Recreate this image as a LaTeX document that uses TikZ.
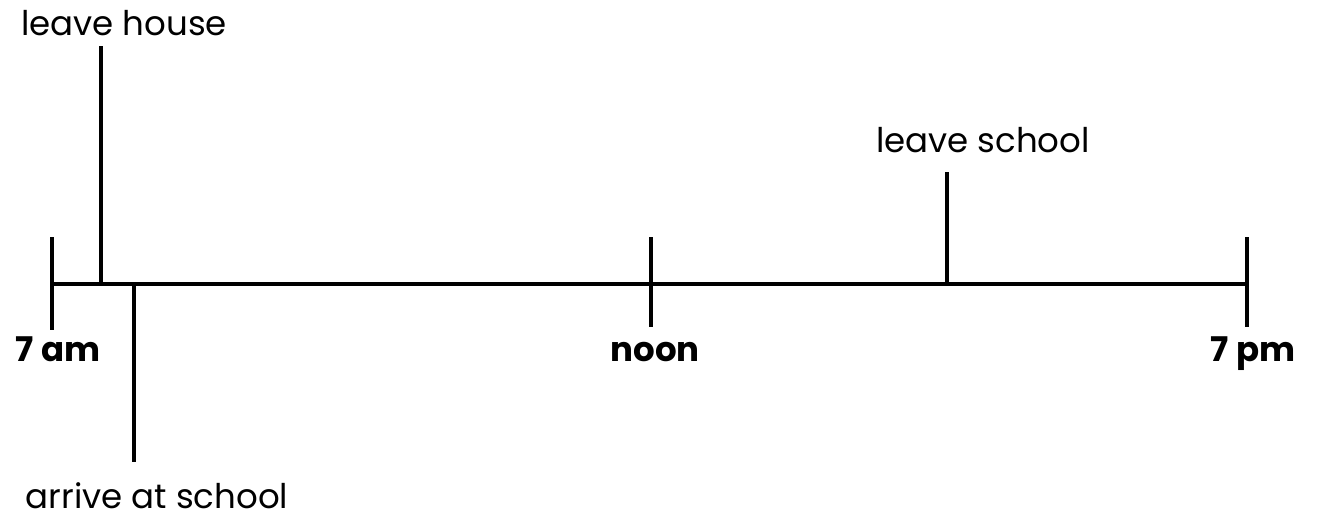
\documentclass[tikz,border=0pt]{standalone}
\usepackage{fontspec}
\setmainfont{Poppins}
\usetikzlibrary{positioning}

\begin{document}
\begin{tikzpicture}[
  x=0.5pt, y=-0.5pt,
  font=\fontsize{17}{20}\selectfont,
  event/.style={anchor=base, inner sep=0pt},
  hour/.style={anchor=base, inner sep=0pt, font=\fontsize{17}{20}\selectfont\bfseries},
  tline/.style={line width=2pt}
]
  \useasboundingbox (0,0) rectangle (1319,520);

  % timeline
  \coordinate (am) at (52,284);
  \coordinate (pm) at (1247,284);
  \coordinate (noon) at (651,284);
  \draw[tline] (am) -- (pm);

  % hour ticks
  \coordinate (amtop) at (52,237);  \coordinate (ambot) at (52,330);
  \coordinate (noontop) at (651,237); \coordinate (noonbot) at (651,327);
  \coordinate (pmtop) at (1247,237); \coordinate (pmbot) at (1247,327);
  \draw[tline] (amtop) -- (ambot);
  \draw[tline] (noontop) -- (noonbot);
  \draw[tline] (pmtop) -- (pmbot);

  \node[hour] (lam) at (58,361) {7 am};
  \node[hour] (lnoon) at (655,361) {noon};
  \node[hour] (lpm) at (1253,361) {7 pm};

  % events
  \coordinate (house) at (101,284);  \coordinate (housetop) at (101,46);
  \coordinate (arrive) at (134,284); \coordinate (arrivebot) at (134,462);
  \coordinate (school) at (947,284); \coordinate (schooltop) at (947,172);
  \draw[tline] (house) -- (housetop);
  \draw[tline] (arrive) -- (arrivebot);
  \draw[tline] (school) -- (schooltop);

  \node[event] (lhouse) at (124,35) {leave house};
  \node[event] (larrive) at (157,508) {arrive at school};
  \node[event] (lschool) at (983,152) {leave school};
\end{tikzpicture}
\end{document}
